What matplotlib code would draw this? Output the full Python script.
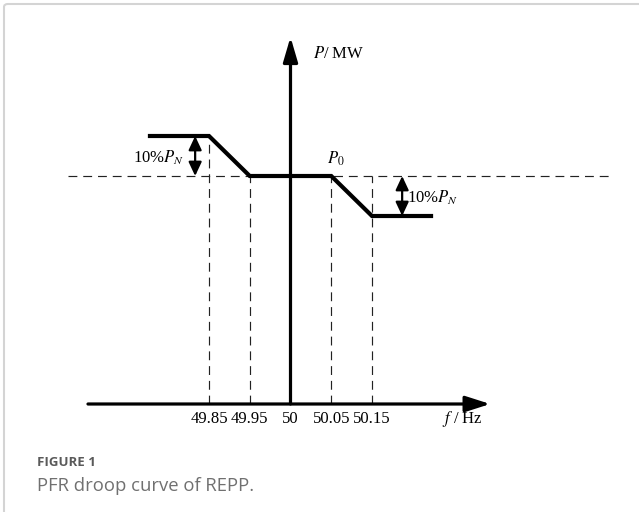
import matplotlib
matplotlib.use("Agg")
import matplotlib.pyplot as plt
from matplotlib.patches import FancyBboxPatch

plt.rcParams['mathtext.fontset'] = 'stix'

# ---- data (schematic units: x = tick index, y = % of P_N relative to P0) ----
tick_pos = [0, 1, 2, 3, 4]
tick_labels = ["49.85", "49.95", "50", "50.05", "50.15"]
curve_x = [-1.5, 0, 1, 3, 4, 5.5]
curve_p = [10, 10, 0, 0, -10, -10]
vdash_x = [0, 1, 3, 4]
vdash_top = [10, 0, 0, 0]
p0_level = 0
axis_p = -57          # position of the frequency axis
xaxis_range = [-2.97, 6.9]
yaxis_range = [-57, 34.75]
hdash_range = [-3.46, 9.84]
step_arrow_x = [-0.34, 4.74]
step_arrow_p = [(0, 10), (0, -10)]

fig = plt.figure(figsize=(6.39, 5.12), dpi=100)
ax = fig.add_axes([0, 0, 1, 1])
ax.set_xlim(-209 / 40.75, (639 - 209) / 40.75)
ax.set_ylim(-84, 44)
ax.axis('off')

# frame
frame = FancyBboxPatch((4 / 639, -0.1), 1.2, 1.1 - 4 / 512,
                       boxstyle="round,pad=0,rounding_size=0.006",
                       transform=fig.transFigure, fill=False,
                       edgecolor="#d4d4d4", lw=1.5)
fig.patches.append(frame)

serif = "Liberation Serif"

# dashed reference lines
ax.plot(hdash_range, [p0_level, p0_level], color="#222222", lw=0.85,
        linestyle=(0, (7.5, 5)))
for x, top in zip(vdash_x, vdash_top):
    ax.plot([x, x], [axis_p, top], color="#222222", lw=0.85,
            linestyle=(0, (7.5, 5)))

# axes arrows
ax.annotate("", xy=(xaxis_range[1], axis_p), xytext=(xaxis_range[0], axis_p),
            arrowprops=dict(arrowstyle="-|>,head_length=0.75,head_width=0.24",
                            mutation_scale=20, lw=2.3, color="black",
                            shrinkA=0, shrinkB=0))
ax.annotate("", xy=(2, yaxis_range[1]), xytext=(2, yaxis_range[0]),
            arrowprops=dict(arrowstyle="-|>,head_length=0.75,head_width=0.22",
                            mutation_scale=20, lw=2.3, color="black",
                            shrinkA=0, shrinkB=0))

# droop curve
ax.plot(curve_x, curve_p, color="black", lw=3.0, solid_joinstyle="miter",
        solid_capstyle="butt")

# step double arrows
for x, (a, b) in zip(step_arrow_x, step_arrow_p):
    ax.annotate("", xy=(x, b), xytext=(x, a),
                arrowprops=dict(arrowstyle="<|-|>,head_length=0.6,head_width=0.28",
                                mutation_scale=14, lw=1.6, color="black",
                                shrinkA=0, shrinkB=0))

# texts
ax.text(-0.61, 4.5, r"10%$P_N$", ha="right", va="center", fontsize=12,
        family=serif)
ax.text(4.86, -5.5, r"10%$P_N$", ha="left", va="center", fontsize=12,
        family=serif)
ax.text(2.9, 4.3, r"$P_0$", ha="left", va="center", fontsize=12, family=serif)
ax.text(2.55, 30.5, r"$P$/ MW", ha="left", va="center", fontsize=12,
        family=serif)
ax.text((442 - 209) / 40.75, -60.75, r"$f$ / Hz", ha="left", va="center",
        fontsize=12, family=serif)
for x, lab in zip(tick_pos, tick_labels):
    ax.text(x, -60.75, lab, ha="center", va="center", fontsize=12,
            family=serif)

# caption
fig.text(37 / 639, 1 - 462 / 512, "FIGURE 1", ha="left", va="center",
         fontsize=9.5, fontweight="bold", color="#5a5a5a", family="Open Sans")
fig.text(37 / 639, 1 - 486 / 512, "PFR droop curve of REPP.", ha="left",
         va="center", fontsize=13.3, color="#707070", family="Open Sans")

fig.savefig("out.png", dpi=100)
